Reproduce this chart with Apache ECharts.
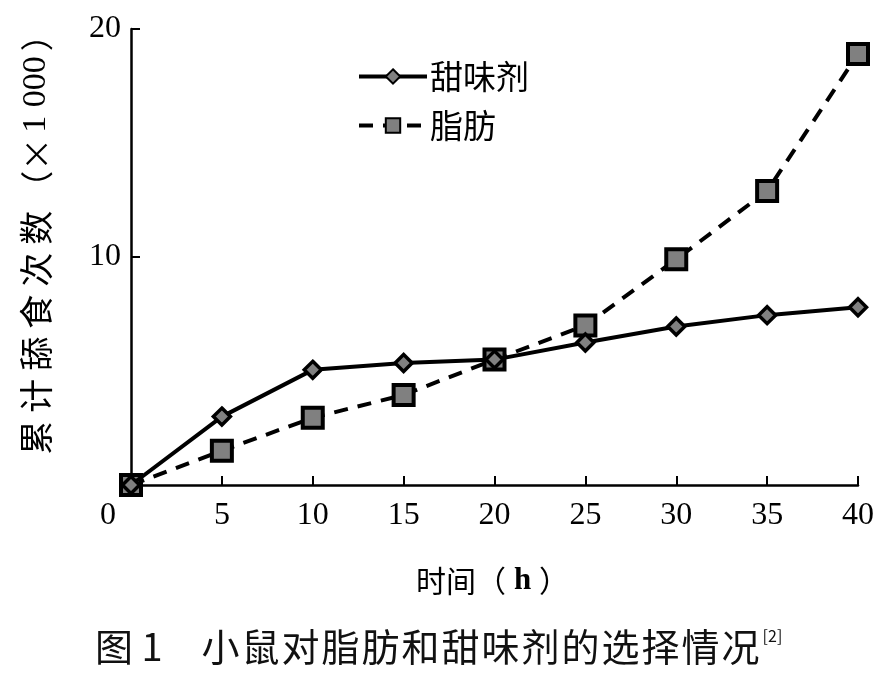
<!DOCTYPE html>
<html>
<head>
<meta charset="utf-8">
<script src="https://cdn.jsdelivr.net/npm/echarts@6/dist/echarts.min.js"></script>
<style>
  html, body { margin: 0; padding: 0; background: #fff; }
  #chart { width: 889px; height: 681px; }
</style>
</head>
<body>
<div id="chart"></div>
<script>
// 时间 (h)
var hours = [0, 5, 10, 15, 20, 25, 30, 35, 40];
// 累计舔食次数 (×1 000)
var sweetener = [0, 3.0, 5.05, 5.35, 5.5, 6.25, 6.95, 7.45, 7.8];
var fat = [0, 1.5, 2.95, 3.95, 5.5, 7.0, 9.9, 12.9, 18.9];
var yTicks = [10, 20];

function pairs(xs, ys) {
  return xs.map(function (x, i) { return [x, ys[i]]; });
}
// 逐字加间距（rich text）
function spaced(str, style) {
  return str.split("").map(function (ch) { return "{" + style + "|" + ch + "}"; }).join("");
}

var chart = echarts.init(document.getElementById("chart"));
var serif = "Liberation Serif";
var cjk = "Noto Sans CJK SC";

chart.setOption({
  animation: false,
  backgroundColor: "#fff",
  grid: { left: 131, right: 31, top: 29, bottom: 196 },
  legend: {
    orient: "vertical",
    left: 352,
    top: 55,
    itemWidth: 68,
    itemHeight: 18,
    itemGap: 16,
    lineStyle: { width: 4 },
    textStyle: { fontFamily: cjk, fontSize: 33, color: "#000", padding: [0, 0, 0, -2] },
    data: ["甜味剂", "脂肪"]
  },
  xAxis: {
    type: "value",
    min: 0,
    max: 40,
    interval: 5,
    name: "时间（{b|h}）",
    nameLocation: "middle",
    nameGap: 80,
    nameTextStyle: {
      fontFamily: cjk, fontSize: 30, color: "#000", padding: [0, 4, 0, 0],
      rich: { b: { fontFamily: serif, fontWeight: "bold", fontSize: 31, color: "#000", padding: [0, 8, 0, 8] } }
    },
    axisLine: { lineStyle: { color: "#000", width: 2.5 } },
    axisTick: { inside: true, length: 9, lineStyle: { color: "#000", width: 2 } },
    splitLine: { show: false },
    axisLabel: {
      fontFamily: serif, fontSize: 32, color: "#000", margin: 15,
      formatter: function (v) { return v === 0 ? "{o|0}" : String(v); },
      rich: { o: { fontFamily: serif, fontSize: 32, color: "#000", padding: [0, 46, 0, 0] } }
    }
  },
  yAxis: {
    type: "value",
    min: 0,
    max: 20,
    interval: 10,
    name: spaced("累计舔食次数", "c") + "{p|（×}{n|1 000}{p|）}",
    nameLocation: "middle",
    nameGap: 78,
    nameRotate: 90,
    nameTextStyle: {
      fontFamily: cjk, fontSize: 34, color: "#000", padding: [0, 0, 0, 40],
      rich: {
        c: { fontFamily: cjk, fontSize: 34, color: "#000", padding: [0, 4, 0, 4] },
        p: { fontFamily: cjk, fontSize: 33, color: "#000", padding: [0, 3, 0, 3] },
        n: { fontFamily: serif, fontSize: 34, color: "#000", padding: [0, 2, 0, 2] }
      }
    },
    axisLine: { lineStyle: { color: "#000", width: 2.5 } },
    axisTick: { inside: true, length: 9, lineStyle: { color: "#000", width: 2 } },
    splitLine: { show: false },
    axisLabel: {
      fontFamily: serif, fontSize: 32, color: "#000", margin: 10,
      formatter: function (v) { return yTicks.indexOf(v) >= 0 ? String(v) : ""; }
    }
  },
  series: [
    {
      name: "甜味剂",
      type: "line",
      data: pairs(hours, sweetener),
      symbol: "diamond",
      symbolSize: 17,
      z: 3,
      lineStyle: { color: "#000", width: 4 },
      itemStyle: { color: "#808080", borderColor: "#000", borderWidth: 3.5 }
    },
    {
      name: "脂肪",
      type: "line",
      data: pairs(hours, fat),
      symbol: "rect",
      symbolSize: 20,
      z: 2,
      lineStyle: { color: "#000", width: 4, type: [14, 10] },
      itemStyle: { color: "#808080", borderColor: "#000", borderWidth: 4 }
    }
  ],
  graphic: [
    {
      type: "text",
      left: 95,
      top: 628,
      style: {
        text: "{t|图 1　}" + spaced("小鼠对脂肪和甜味剂的选择情况", "c") + "{s|[2]}",
        rich: {
          t: { fontFamily: cjk, fontSize: 38, fill: "#111" },
          c: { fontFamily: cjk, fontSize: 38, fill: "#111", padding: [0, 1, 0, 1] },
          s: { fontFamily: cjk, fontSize: 16, fill: "#111", verticalAlign: "top", padding: [0, 0, 20, 2] }
        }
      }
    }
  ]
});
</script>
</body>
</html>
